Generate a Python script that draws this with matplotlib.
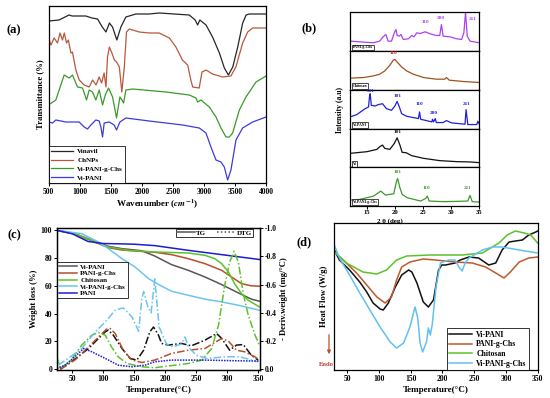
import numpy as np
import matplotlib
matplotlib.use('Agg')
import matplotlib.pyplot as plt
from matplotlib.lines import Line2D

plt.rcParams['font.family'] = ['Liberation Serif', 'DejaVu Serif']
plt.rcParams['font.weight'] = 'bold'
plt.rcParams['axes.labelweight'] = 'bold'
plt.rcParams['mathtext.fontset'] = 'stix'
plt.rcParams['axes.linewidth'] = 0.9
plt.rcParams['xtick.labelsize'] = 5.5
plt.rcParams['ytick.labelsize'] = 5.5
plt.rcParams['xtick.major.size'] = 2
plt.rcParams['ytick.major.size'] = 2
plt.rcParams['xtick.major.width'] = 0.7
plt.rcParams['ytick.major.width'] = 0.7
plt.rcParams['xtick.major.pad'] = 1.5
plt.rcParams['ytick.major.pad'] = 1.5

# --------------------------
# (a) FTIR
# --------------------------
ftir_names = ['Vinavil', 'ChNPs', 'Vi-PANI-g-Chs', 'Vi-PANI']
ftir_colors = ['#262626', '#b8583c', '#3a9a2a', '#3b3bdc']
vin_wn = [500, 670, 830, 880, 1100, 1200, 1290, 1365, 1425, 1480, 1530, 1600, 1665, 1745, 1905,
          2120, 2280, 2765, 2860, 2900, 2935, 3035, 3140, 3250, 3330, 3395, 3465, 3545, 3625,
          3680, 3730, 4000]
vin_t = [162, 163, 168, 167, 167, 165, 164, 156, 151, 160, 156, 143, 156, 166, 169,
         169, 170, 168, 163, 158, 163, 158, 146, 130, 115, 108, 116, 136, 160,
         168, 169, 169]
chn_wn = [500, 540, 590, 645, 685, 725, 755, 790, 820, 860, 885, 940, 995, 1075, 1155, 1210,
          1265, 1315, 1355, 1395, 1425, 1450, 1480, 1520, 1560, 1595, 1640, 1680, 1720, 1755,
          1800, 1960, 2120, 2280, 2445, 2550, 2655, 2740, 2790, 2820, 2925, 2970, 3035, 3140,
          3300, 3435, 3515, 3625, 3705, 3785, 4000]
chn_t = [145, 138, 145, 140, 150, 143, 150, 140, 143, 130, 131, 113, 103, 98, 96, 103,
         98, 106, 100, 110, 96, 126, 136, 130, 123, 121, 116, 91, 116, 151,
         154, 151, 150, 150, 145, 136, 123, 118, 103, 96, 95, 111, 113, 109,
         106, 107, 116, 140, 151, 155, 155]
vpc_wn = [500, 618, 752, 833, 886, 967, 1048, 1112, 1155, 1208, 1262, 1316, 1370, 1413, 1466,
          1531, 1595, 1649, 1681, 1708, 1745, 1853, 2390, 2765, 2873, 2900, 2953, 3088, 3195,
          3275, 3356, 3410, 3463, 3571, 3678, 3839, 4000]
vpc_t = [78, 83, 108, 105, 108, 96, 95, 83, 93, 91, 83, 93, 78, 88, 95,
         86, 65, 86, 83, 80, 93, 94, 91, 88, 85, 81, 83, 76, 66,
         55, 46, 46, 50, 73, 86, 101, 107]
vp_wn = [500, 565, 618, 779, 994, 1074, 1128, 1182, 1262, 1316, 1343, 1370, 1396, 1477, 1557,
         1595, 1649, 1745, 2121, 2658, 2926, 3034, 3114, 3195, 3275, 3329, 3383, 3436, 3517,
         3624, 3785, 4000]
vp_t = [61, 60, 63, 61, 61, 56, 54, 58, 63, 62, 56, 46, 60, 61, 58,
        53, 61, 65, 62, 58, 55, 50, 36, 23, 21, 16, 3, 13, 43,
        55, 61, 66]

# --------------------------
# (b) XRD
# --------------------------
xrd_names = ['PANI-g-Chs', 'Chitosan', 'Vi-PANI', 'Vi', 'Vi-PANI-g-Chs']
xrd_colors = ['#b040ee', '#a0521e', '#2020d8', '#111111', '#3c9a2a']
xrd_label_colors = ['#b040ee', '#d02020', '#2020d8', '#111111', '#3c9a2a']
xrd_x = [
    [12.0, 14.4, 16.2, 17.3, 17.9, 18.4, 18.8, 19.4, 19.9, 20.2, 20.4, 20.8, 21.1, 21.5, 22.4,
     23.0, 23.4, 23.9, 24.5, 25.4, 26.3, 27.4, 28.0, 28.3, 28.6, 29.8, 31.0, 31.9, 32.3, 32.6,
     32.9, 33.4, 35.0],
    [12.0, 14.4, 16.2, 17.3, 18.2, 19.1, 19.7, 20.0, 20.4, 21.2, 22.1, 23.3, 25.1, 27.4, 28.9,
     29.2, 29.7, 32.2, 35.0],
    [12.0, 13.2, 14.7, 15.3, 15.5, 15.6, 15.8, 16.5, 17.0, 17.8, 18.5, 19.4, 20.0, 20.4, 20.8,
     21.2, 22.1, 24.2, 24.4, 24.6, 26.6, 26.7, 26.9, 27.2, 27.4, 28.6, 29.2, 30.1, 32.5, 32.7,
     33.0, 34.6, 34.8, 35.0],
    [12.0, 15.0, 16.8, 17.3, 17.8, 18.2, 19.1, 19.9, 20.4, 20.9, 21.3, 22.0, 23.0, 25.1, 28.0,
     31.0, 33.4, 35.0],
    [12.0, 13.8, 16.2, 17.5, 18.3, 19.8, 20.3, 20.5, 20.9, 21.3, 22.2, 24.6, 25.5, 25.8, 26.1,
     28.8, 33.0, 33.4, 33.8, 35.0],
]
xrd_y = [
    [30, 27, 25, 30, 43, 50, 30, 30, 55, 65, 47, 45, 50, 35, 37,
     47, 43, 55, 53, 58, 52, 47, 47, 80, 45, 43, 37, 35, 55, 117,
     45, 30, 25],
    [35, 37, 42, 47, 57, 74, 89, 92, 84, 69, 57, 47, 37, 32, 32,
     37, 29, 25, 22],
    [35, 42, 60, 65, 100, 105, 70, 68, 72, 75, 60, 55, 68, 82, 65,
     45, 37, 30, 50, 28, 20, 28, 20, 30, 18, 18, 24, 17, 13, 57,
     12, 12, 22, 15],
    [42, 47, 54, 62, 67, 57, 54, 72, 89, 67, 45, 44, 35, 27, 20,
     17, 16, 14],
    [18, 20, 30, 45, 33, 37, 75, 83, 55, 35, 25, 15, 23, 30, 15,
     13, 15, 32, 13, 12],
]
xrd_peaks = [
    [('110', 25.4, 83), ('200', 28.2, 93), ('211', 33.9, 90)],
    [('110', 19.8, 105)],
    [('011', 15.6, 107), ('101', 20.5, 93), ('110', 24.4, 67), ('200', 27.0, 42), ('211', 32.8, 68)],
    [('101', 20.5, 100)],
    [('101', 20.5, 98), ('110', 25.6, 48), ('211', 32.9, 48)],
]

# --------------------------
# (c) TGA / DTG
# --------------------------
tga_names = ['Vi-PANI', 'PANI-g-Chs', 'Chitosan', 'Vi-PANI-g-Chs', 'PANI']
tg_colors = ['#555555', '#b5502a', '#5cc22a', '#6cc5ee', '#1c1cd0']
dtg_colors = ['#111111', '#b5502a', '#5cc22a', '#6cc5ee', '#1c1cd0']
tg_temp = [
    [25, 54, 81, 108, 130, 162, 183, 210, 237, 264, 291, 318, 339, 352],
    [25, 54, 81, 108, 130, 162, 183, 210, 237, 264, 291, 307, 323, 339, 352],
    [25, 54, 81, 108, 140, 183, 237, 264, 280, 291, 302, 312, 323, 334, 352],
    [25, 65, 92, 108, 130, 151, 173, 189, 210, 237, 264, 291, 318, 352],
    [25, 50, 75, 100, 125, 150, 183, 237, 291, 352],
]
tg_weight = [
    [100, 97.5, 93, 88.5, 86.8, 85.3, 81.5, 75.3, 71.2, 66.4, 60.9, 54.9, 50.4, 48.9],
    [100, 97.3, 92.5, 87.5, 85.8, 84.8, 84.2, 82.5, 79.6, 76, 71.2, 66.4, 61.6, 60, 59.7],
    [100, 97.6, 92.8, 88, 85.6, 84.4, 83.7, 82, 79.6, 76, 70, 61.6, 54.4, 49.6, 44.8],
    [100, 97.6, 91.6, 86.8, 79.6, 73.6, 65.2, 61, 56.1, 53.2, 50.4, 48.4, 46, 42.4],
    [100, 97.5, 92, 90.5, 90.3, 90, 89, 85.6, 82.5, 79],
]
dtg_temp = [
    [30, 50, 76, 92, 103, 108, 116, 130, 143, 154, 165, 175, 181, 189, 194, 205, 226, 242, 264,
     283, 291, 304, 315, 326, 339, 350],
    [30, 55, 87, 105, 111, 119, 132, 146, 162, 183, 210, 237, 264, 291, 302, 315, 328, 345, 352],
    [25, 30, 45, 65, 81, 92, 103, 113, 124, 138, 162, 183, 237, 259, 275, 286, 296, 304, 311,
     318, 326, 334, 345, 352],
    [27, 43, 65, 87, 103, 119, 132, 146, 157, 162, 165, 172, 177, 183, 190, 202, 213, 226, 232,
     237, 250, 267, 299, 320, 350],
    [25, 38, 54, 68, 81, 103, 124, 146, 167, 183, 210, 264, 318, 352],
]
dtg_value = [
    [-0.0, -0.06, -0.148, -0.219, -0.266, -0.278, -0.242, -0.148, -0.078, -0.066, -0.136,
     -0.266, -0.30, -0.242, -0.184, -0.172, -0.184, -0.167, -0.207, -0.254, -0.219, -0.136,
     -0.172, -0.176, -0.10, -0.066],
    [-0.0, -0.07, -0.207, -0.285, -0.289, -0.254, -0.136, -0.066, -0.049, -0.066, -0.113,
     -0.136, -0.148, -0.219, -0.20, -0.136, -0.125, -0.089, -0.066],
    [-0.09, -0.01, -0.05, -0.172, -0.242, -0.261, -0.242, -0.16, -0.089, -0.042, -0.019,
     -0.012, -0.042, -0.066, -0.148, -0.313, -0.595, -0.76, -0.835, -0.76, -0.536, -0.384,
     -0.242, -0.172],
    [-0.03, -0.078, -0.148, -0.266, -0.336, -0.419, -0.435, -0.372, -0.27, -0.50, -0.55,
     -0.44, -0.40, -0.64, -0.30, -0.18, -0.16, -0.18, -0.23, -0.16, -0.10, -0.078, -0.09,
     -0.09, -0.054],
    [-0.007, -0.03, -0.09, -0.148, -0.125, -0.078, -0.03, -0.019, -0.03, -0.054, -0.066,
     -0.066, -0.061, -0.059],
]
dtg_styles = [(0, (5, 1.5, 1, 1.5))] * 4 + [(0, (1, 0.8))]

# --------------------------
# (d) DSC
# --------------------------
dsc_names = ['Vi-PANI', 'PANI-g-Chs', 'Chitosan', 'Vi-PANI-g-Chs']
dsc_colors = ['#111111', '#c0582a', '#5cc22a', '#62c0ef']
dsc_temp = [
    [30, 38, 54, 70, 81, 91, 102, 107, 115, 126, 136, 147, 152, 160, 170, 178, 186, 194, 199,
     205, 220, 228, 242, 257, 273, 284, 294, 305, 315, 326, 336, 347, 350],
    [30, 44, 65, 81, 97, 110, 120, 128, 136, 149, 170, 189, 220, 247, 268, 284, 297, 307, 321,
     336, 350],
    [30, 49, 75, 97, 112, 128, 144, 181, 231, 263, 289, 302, 315, 329, 339, 350],
    [30, 38, 54, 70, 86, 102, 118, 128, 139, 149, 157, 161, 165, 169, 175, 178, 181, 184, 190,
     197, 210, 220, 226, 231, 236, 242, 263, 279, 294, 321, 350],
]
dsc_flow = [
    [120, 110, 100, 88, 78, 67, 61, 60, 67, 83, 95, 100, 98, 87, 68, 63, 70, 100, 105,
     105, 107, 110, 113, 112, 105, 107, 120, 128, 129, 130, 135, 138, 139],
    [118, 110, 97, 85, 73, 67, 73, 90, 103, 108, 111, 110, 108, 107, 103, 97, 92, 98, 108,
     112, 113],
    [118, 107, 98, 96, 100, 110, 114, 115, 115, 117, 127, 135, 139, 137, 135, 127],
    [125, 112, 95, 77, 60, 43, 28, 22, 27, 43, 63, 53, 27, 18, 28, 42, 35, 45, 83,
     107, 110, 110, 103, 99, 107, 112, 120, 123, 123, 120, 117],
]

W, H = 550, 398


def rect(left, top, right, bottom):
    return [left / W, 1 - bottom / H, (right - left) / W, (bottom - top) / H]


def boxed_legend(ax, **kw):
    leg = ax.legend(frameon=True, fancybox=False, edgecolor='black', borderaxespad=0, **kw)
    leg.get_frame().set_linewidth(0.7)
    return leg


fig = plt.figure(figsize=(5.5, 3.98), dpi=100)

# ========================
# (a)
# ========================
ax = fig.add_axes(rect(48.5, 6, 266, 183))
ftir = [(vin_wn, vin_t), (chn_wn, chn_t), (vpc_wn, vpc_t), (vp_wn, vp_t)]
for (wn, t), name, c in zip(ftir, ftir_names, ftir_colors):
    ax.plot(wn, t, color=c, lw=0.9, label=name)
ax.set_xlim(500, 4000)
ax.set_ylim(0, 177)
ax.set_xticks(np.arange(500, 4001, 500))
ax.set_yticks([])
ax.set_xlabel('Wavenumber ($cm^{-1}$)', fontsize=6.5, labelpad=1.5)
ax.set_ylabel('Transmittance (%)', fontsize=6.2, labelpad=3)
boxed_legend(ax, loc='lower left', bbox_to_anchor=(0, 0), fontsize=5, handlelength=3.2,
             borderpad=0.35, labelspacing=0.42, handletextpad=0.6)
fig.text(14 / W, 1 - 30 / H, '(a)', fontsize=9, ha='center', va='center')

# ========================
# (b)
# ========================
b_top, b_bot = 12.3, 206
h = (b_bot - b_top) / 5
for i in range(5):
    axb = fig.add_axes(rect(350, b_top + i * h, 479, b_top + (i + 1) * h))
    axb.plot(xrd_x[i], xrd_y[i], color=xrd_colors[i], lw=0.9)
    axb.set_xlim(12, 35)
    axb.set_ylim(0, 117)
    axb.set_yticks([])
    axb.set_xticks([15, 20, 25, 30, 35])
    axb.tick_params(axis='x', labelsize=4.8, pad=1)
    if i < 4:
        axb.tick_params(axis='x', length=0, labelbottom=False)
    for lab, px, py in xrd_peaks[i]:
        axb.text(px, py, lab, color=xrd_label_colors[i], fontsize=3.8, ha='center', va='bottom')
    axb.text(0.02, 0.04, xrd_names[i], transform=axb.transAxes, fontsize=2.8, va='bottom',
             ha='left', bbox=dict(boxstyle='square,pad=0.25', fc='white', ec='black', lw=0.5))
fig.text(390 / W, 1 - 221 / H, '2 θ (deg)', fontsize=5, ha='center', va='center')
fig.text(340 / W, 1 - 110 / H, 'Intensity (a.u)', fontsize=5.5, ha='center', va='center',
         rotation=90)
fig.text(309 / W, 1 - 28 / H, '(b)', fontsize=9, ha='center', va='center')

# ========================
# (c)
# ========================
axc = fig.add_axes(rect(57, 228, 260, 370))
axr = axc.twinx()
for i in range(5):
    axc.plot(tg_temp[i], tg_weight[i], color=tg_colors[i], lw=1.1, label=tga_names[i])
    axr.plot(dtg_temp[i], dtg_value[i], color=dtg_colors[i], lw=1.1, ls=dtg_styles[i])
axc.set_xlim(25, 353)
axc.set_ylim(-0.7, 101.7)
axr.set_ylim(0.004, -1.0)
axc.set_xticks(np.arange(50, 351, 50))
axc.set_yticks(np.arange(0, 101, 20))
axr.set_yticks([0.0, -0.2, -0.4, -0.6, -0.8, -1.0])
axr.set_yticklabels(['0.0', '-0.2', '-0.4', '-0.6', '-0.8', '-1.0'])
axc.set_xlabel('Temperature(°C)', fontsize=6.5, labelpad=2)
axc.set_ylabel('Weight loss (%)', fontsize=6.2, labelpad=2)
axr.set_ylabel('- Deriv.weight (mg/°C)', fontsize=6.2, labelpad=2)
boxed_legend(axc, loc='upper left', bbox_to_anchor=(0, 0.76), fontsize=5, handlelength=2.6,
             borderpad=0.25, labelspacing=0.12, handletextpad=0.5)
style_handles = [Line2D([], [], color='#555555', lw=1.1),
                 Line2D([], [], color='#555555', lw=1.1, ls=(0, (1, 1.5)))]
leg2 = axr.legend(style_handles, ['TG', 'DTG'], loc='upper right', bbox_to_anchor=(0.965, 0.995),
                  ncol=2, fontsize=5, frameon=True, fancybox=False, edgecolor='black',
                  handlelength=2.6, borderpad=0.15, columnspacing=1.6, handletextpad=0.2,
                  borderaxespad=0)
leg2.get_frame().set_linewidth(0.7)
fig.text(14 / W, 1 - 235 / H, '(c)', fontsize=9, ha='center', va='center')

# ========================
# (d)
# ========================
axd = fig.add_axes(rect(334, 223, 538, 370))
for i in range(4):
    axd.plot(dsc_temp[i], dsc_flow[i], color=dsc_colors[i], lw=1.1, label=dsc_names[i])
axd.set_xlim(29.5, 350.5)
axd.set_ylim(0, 147)
axd.set_xticks(np.arange(50, 351, 50))
axd.set_yticks([])
axd.set_xlabel('Temperature(°C)', fontsize=6.5, labelpad=2)
axd.set_ylabel('Heat Flow (W/g)', fontsize=6.2, labelpad=4)
boxed_legend(axd, loc='lower left', bbox_to_anchor=(0.552, 0.0), fontsize=5.6, handlelength=3.0,
             borderpad=0.3, labelspacing=0.22, handletextpad=0.5)
fig.add_artist(matplotlib.patches.FancyArrowPatch(
    (329 / W, 1 - 332 / H), (329 / W, 1 - 357 / H), transform=fig.transFigure,
    arrowstyle='-|>', mutation_scale=5, color='#b8502a', lw=0.9))
fig.text(326 / W, 1 - 364 / H, 'Endo', fontsize=4.8, color='#c04040', ha='center', va='center')
fig.text(304 / W, 1 - 242 / H, '(d)', fontsize=9, ha='center', va='center')

fig.savefig('out.png', dpi=100)
